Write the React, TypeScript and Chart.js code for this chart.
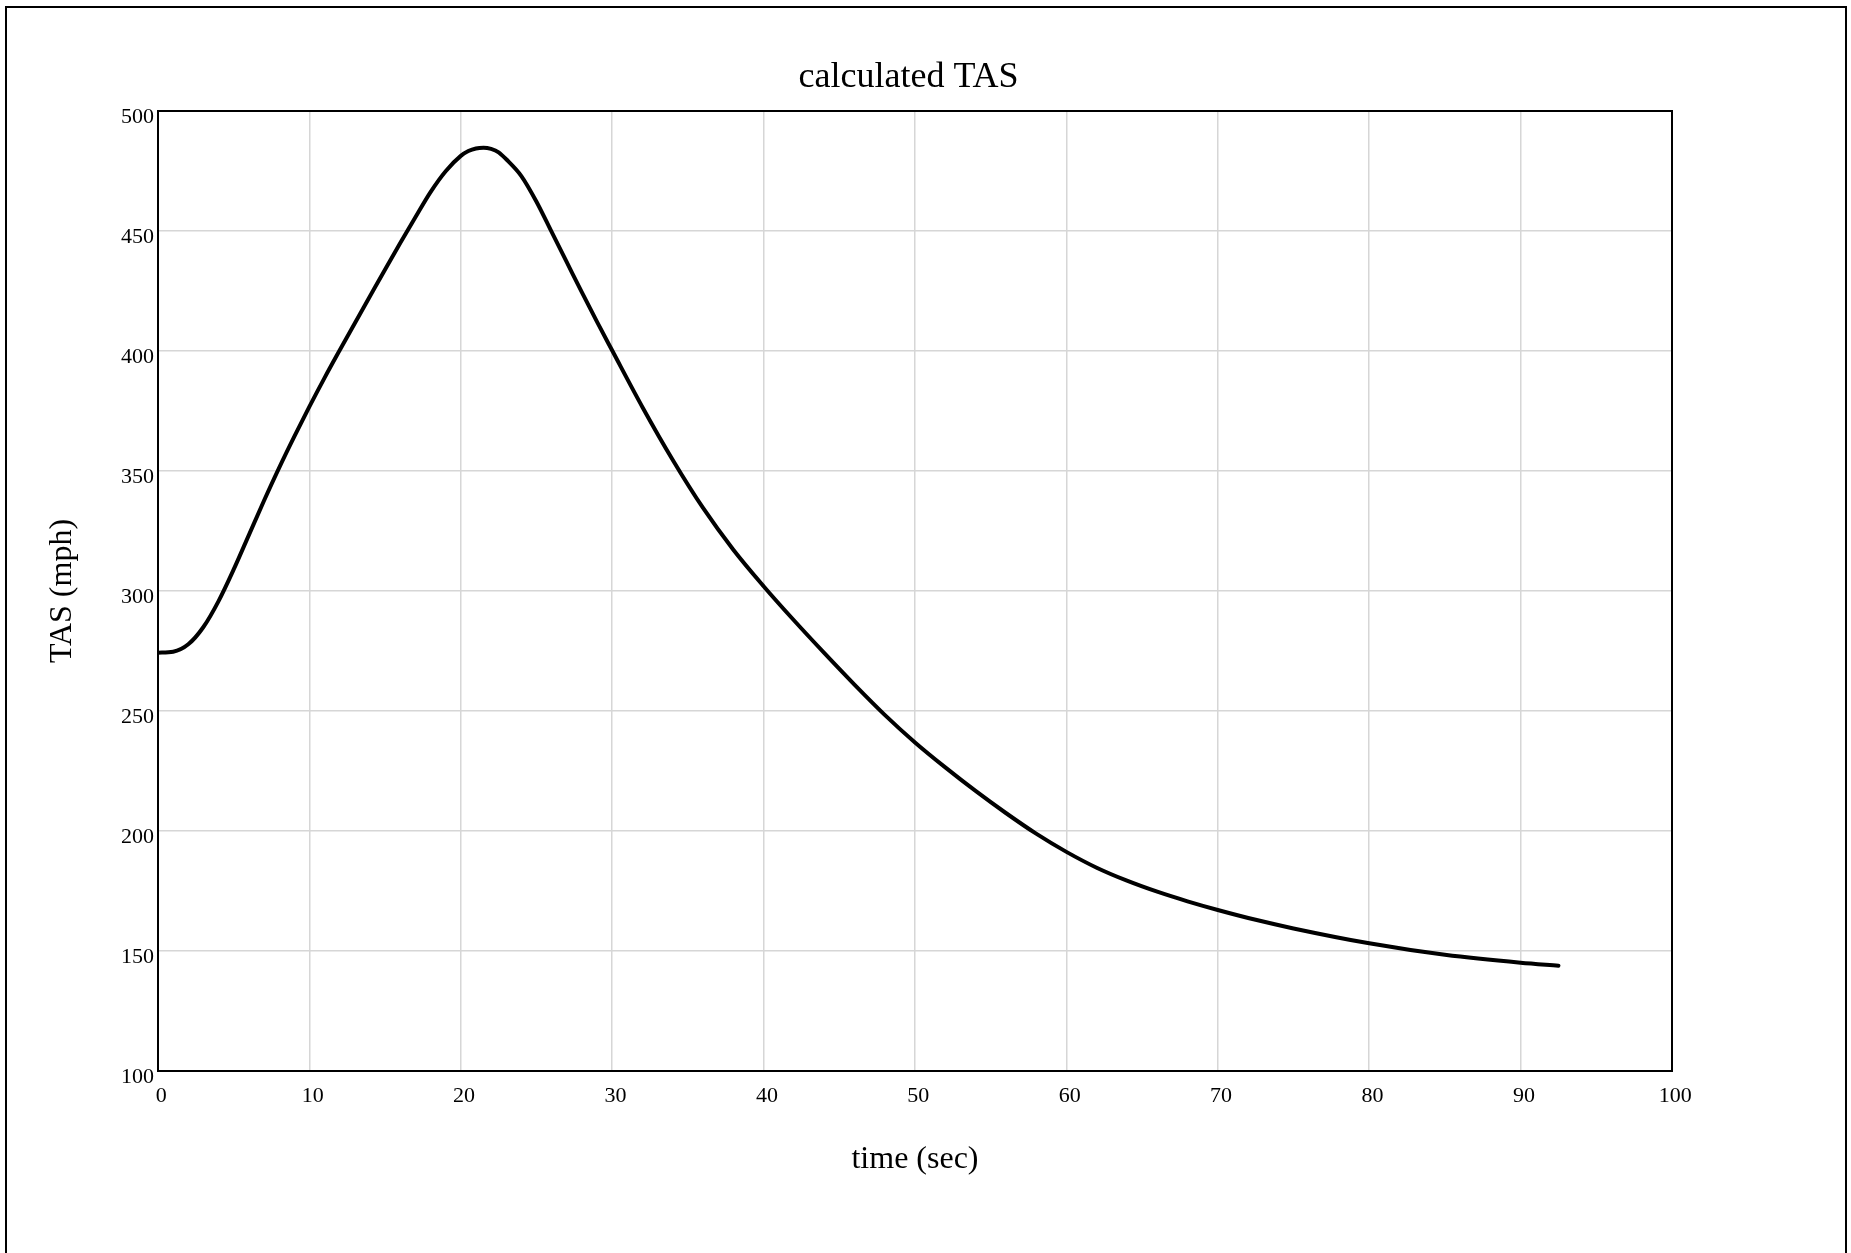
import React, { useEffect, useRef } from "react";
import { Chart, registerables } from "chart.js";

Chart.register(...registerables);

const chartTitle = "calculated TAS";
const xAxisTitle = "time (sec)";
const yAxisTitle = "TAS (mph)";

const timeSec = [
  0, 1, 2, 3, 4, 5, 6, 7, 8, 9, 10, 11, 12, 13, 14, 15, 16, 17, 18, 19, 20,
  20.5, 21, 21.5, 22, 22.5, 23, 24, 25, 26, 27, 28, 29, 30, 32, 34, 36, 38,
  40, 42, 44, 46, 48, 50, 52, 54, 56, 58, 60, 62, 64, 66, 68, 70, 72.5, 75,
  80, 85, 90, 92.5,
];
const tasMph = [
  274.3, 274.7, 277.8, 285, 295.8, 309, 323.3, 337.6, 351.3, 364.3, 376.8,
  388.8, 400.3, 411.6, 422.8, 434, 445, 455.7, 466.2, 474.9, 481.3, 483.3,
  484.4, 484.7, 484.2, 482.8, 479.9, 472.9, 462.2, 449.6, 437, 424.4, 412.1,
  400.2, 376.6, 354.6, 334.6, 317.2, 302, 287.8, 274.2, 261, 248.4, 236.9,
  226.5, 216.7, 207.5, 198.9, 191.3, 184.7, 179.3, 174.7, 170.7, 167.1, 163,
  159.4, 153.2, 148.4, 145.1, 143.9,
];

const xMin = 0;
const xMax = 100;
const xStep = 10;
const yMin = 100;
const yMax = 500;
const yStep = 50;

const FONT = "'Liberation Serif', 'Times New Roman', Times, serif";

const framePlugin = {
  id: "frame",
  afterDatasetsDraw(chart: any) {
    const { ctx, chartArea } = chart;
    const { left, top, right, bottom } = chartArea;
    ctx.save();
    ctx.strokeStyle = "#000";
    ctx.lineWidth = 2;
    ctx.strokeRect(left, top, right - left, bottom - top);
    ctx.restore();
  },
};

export default function App() {
  const canvasRef = useRef<HTMLCanvasElement | null>(null);

  useEffect(() => {
    const canvas = canvasRef.current;
    if (!canvas) return;
    const points = timeSec.map((t, i) => ({ x: t, y: tasMph[i] }));
    const chart = new Chart(canvas, {
      type: "line",
      data: {
        datasets: [
          {
            label: yAxisTitle,
            data: points,
            borderColor: "#000",
            backgroundColor: "#000",
            borderWidth: 4,
            pointRadius: 0,
            fill: false,
            cubicInterpolationMode: "monotone",
            borderCapStyle: "round",
            borderJoinStyle: "round",
          },
        ],
      },
      options: {
        responsive: false,
        animation: false,
        devicePixelRatio: 1,
        layout: { padding: { left: 0, right: 34, top: 0, bottom: 0 } },
        plugins: {
          legend: { display: false },
          tooltip: { enabled: false },
          title: {
            display: true,
            text: chartTitle,
            color: "#000",
            font: { family: FONT, size: 36, weight: "normal", lineHeight: 1.2 },
            padding: { top: 56.4, bottom: 11.4 },
          },
        },
        scales: {
          x: {
            type: "linear",
            position: "bottom",
            min: xMin,
            max: xMax,
            afterFit(scale: any) {
              scale.height = 182;
            },
            ticks: {
              stepSize: xStep,
              color: "#000",
              font: { family: FONT, size: 22, lineHeight: 1.2 },
              padding: 12.3,
              labelOffset: 3.3,
              maxRotation: 0,
              autoSkip: false,
            },
            grid: {
              color: "#d6d6d6",
              lineWidth: 1.5,
              drawTicks: false,
            },
            border: { display: false },
            title: {
              display: true,
              text: xAxisTitle,
              color: "#000",
              font: { family: FONT, size: 32, lineHeight: 1.2 },
              padding: { top: 0, bottom: 74.4 },
            },
          },
          y: {
            type: "linear",
            position: "left",
            min: yMin,
            max: yMax,
            afterFit(scale: any) {
              scale.width = 158;
            },
            ticks: {
              stepSize: yStep,
              color: "#000",
              font: { family: FONT, size: 22, lineHeight: 1.2 },
              padding: 4,
              labelOffset: 6.3,
            },
            grid: {
              color: "#d6d6d6",
              lineWidth: 1.5,
              drawTicks: false,
            },
            border: { display: false },
            title: {
              display: true,
              text: yAxisTitle,
              color: "#000",
              font: { family: FONT, size: 32, lineHeight: 1.2 },
              padding: { top: 43.5, bottom: 0 },
            },
          },
          yRight: {
            type: "linear",
            position: "right",
            display: true,
            afterFit(scale: any) {
              scale.width = 145;
            },
            ticks: { display: false },
            grid: { display: false, drawTicks: false },
            border: { display: false },
            title: { display: false },
          },
        },
      },
      plugins: [framePlugin],
    } as any);
    return () => chart.destroy();
  }, []);

  return (
    <div
      style={{
        position: "absolute",
        left: 0,
        top: 0,
        width: 1851,
        height: 1253,
        overflow: "hidden",
        background: "#fff",
      }}
    >
      <div
        style={{
          position: "absolute",
          left: 5,
          top: 6,
          width: 1842,
          height: 1300,
          border: "2px solid #000",
          boxSizing: "border-box",
        }}
      />
      <canvas
        ref={canvasRef}
        width={1851}
        height={1253}
        style={{ position: "absolute", left: 0, top: 0, width: 1851, height: 1253 }}
      />
    </div>
  );
}
